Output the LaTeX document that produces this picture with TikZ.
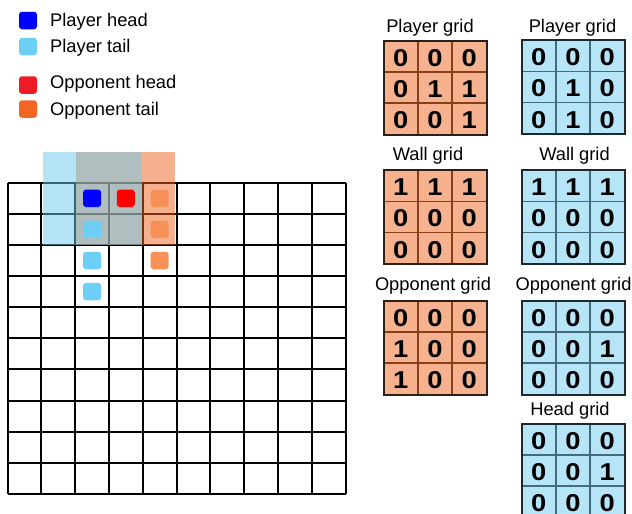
\documentclass[tikz,border=0pt]{standalone}
\usepackage{fontspec}
\setmainfont{Liberation Sans}
\newfontfamily\digfam[FakeStretch=1.12]{Liberation Sans}
\newcommand\lblfont{\fontsize{18.3}{20}\selectfont}
\newcommand\digfont{\digfam\fontsize{24.4}{26}\selectfont\bfseries}
\definecolor{phead}{RGB}{0,0,255}
\definecolor{ptail}{RGB}{110,207,246}
\definecolor{ohead}{RGB}{255,0,0}
\definecolor{oheadleg}{RGB}{237,28,36}
\definecolor{otail}{RGB}{247,145,88}
\definecolor{otailleg}{RGB}{242,101,34}
\definecolor{ovorange}{RGB}{237,101,29}
\definecolor{ovblue}{RGB}{111,203,241}
\definecolor{orgfillc}{RGB}{246,178,142}
\definecolor{orglinec}{RGB}{135,62,25}
\definecolor{orgbordc}{RGB}{45,30,22}
\definecolor{blufillc}{RGB}{183,229,248}
\definecolor{blulinec}{RGB}{68,108,122}
\definecolor{bluborderc}{RGB}{28,42,48}
\tikzset{
  tok/.style={minimum width=18pt, minimum height=17.5pt, rounded corners=3pt, inner sep=0pt},
  lbl/.style={font=\lblfont, anchor=base west, inner sep=0pt},
  ttl/.style={font=\lblfont, anchor=base, inner sep=0pt},
  digit/.style={font=\digfont, anchor=base, inner sep=0pt},
  gridline/.style={line width=2pt, black},
  orgfill/.style={fill=orgfillc},
  orgline/.style={draw=orglinec, line width=1.6pt},
  orgborder/.style={draw=orgbordc, line width=2pt},
  blufill/.style={fill=blufillc},
  bluline/.style={draw=blulinec, line width=1.6pt},
  bluborder/.style={draw=bluborderc, line width=2pt},
}
\newcommand\threegrid[5]{%
  \begin{scope}[shift={(#2,#3)}]
    \fill[#4fill] (0,0) rectangle (103,94);
    \draw[#4line] (34.33,0) -- (34.33,94) (68.67,0) -- (68.67,94)
      (0,31.33) -- (103,31.33) (0,62.67) -- (103,62.67);
    \draw[#4border] (0,0) rectangle (103,94);
    \foreach \v [count=\k from 0] in {#5} {
      \pgfmathtruncatemacro\cc{mod(\k,3)}
      \pgfmathtruncatemacro\rr{\k/3}
      \node[digit] (#1-\k) at (\cc*34.33+17.17, \rr*31.33+25.5) {\v};
    }
  \end{scope}}
\begin{document}
\begin{tikzpicture}[x=1pt,y=-1pt]
\clip (0,0) rectangle (632,514);
\fill[white] (0,0) rectangle (632,514);

% legend
\node[tok, fill=phead] (lph) at (28,20.5) {};
\node[tok, fill=ptail] (lpt) at (28,46.5) {};
\node[tok, fill=oheadleg] (loh) at (28,85) {};
\node[tok, fill=otailleg] (lot) at (28,109) {};
\node[lbl] (tph) at (50,26) {Player head};
\node[lbl] (tpt) at (50,52.3) {Player tail};
\node[lbl] (toh) at (50,88.7) {Opponent head};
\node[lbl] (tot) at (50,115) {Opponent tail};

% main grid
\foreach \i in {0,...,10} {
  \draw[gridline] (7.5+\i*33.8,182.7) -- (7.5+\i*33.8,494);
  \draw[gridline] (7.5,182.7+\i*31.13) -- (345.5,182.7+\i*31.13);
}
% windows
\fill[ovorange, opacity=0.5] (76,152) rectangle (175,245);
\fill[ovblue, opacity=0.5] (42.7,152) rectangle (142,245);

% tokens on the board
\node[tok, fill=phead] (ph) at (92.1,198.3) {};
\node[tok, fill=ohead] (oh) at (125.8,198.3) {};
\node[tok, fill=ptail] (pt1) at (92.1,229.4) {};
\node[tok, fill=ptail] (pt2) at (92.1,260.5) {};
\node[tok, fill=ptail] (pt3) at (92.1,291.6) {};
\node[tok, fill=otail] (ot1) at (159.6,198.3) {};
\node[tok, fill=otail] (ot2) at (159.6,229.4) {};
\node[tok, fill=otail] (ot3) at (159.6,260.5) {};

% titles
\node[ttl] (t1) at (430,32) {Player grid};
\node[ttl] (t2) at (572.5,32) {Player grid};
\node[ttl] (t3) at (428,160.7) {Wall grid};
\node[ttl] (t4) at (574.5,160.7) {Wall grid};
\node[ttl] (t5) at (433,290) {Opponent grid};
\node[ttl] (t6) at (573.5,290) {Opponent grid};
\node[ttl] (t7) at (570,415) {Head grid};

% small grids
\threegrid{g1}{383.5}{40.5}{org}{0,0,0,0,1,1,0,0,1}
\threegrid{g2}{521.5}{40}{blu}{0,0,0,0,1,0,0,1,0}
\threegrid{g3}{383.5}{170}{org}{1,1,1,0,0,0,0,0,0}
\threegrid{g4}{521.5}{170}{blu}{1,1,1,0,0,0,0,0,0}
\threegrid{g5}{383.5}{300.5}{org}{0,0,0,1,0,0,1,0,0}
\threegrid{g6}{521.5}{300.5}{blu}{0,0,0,0,0,1,0,0,0}
\threegrid{g7}{521.5}{423.5}{blu}{0,0,0,0,0,1,0,0,0}
\end{tikzpicture}
\end{document}
